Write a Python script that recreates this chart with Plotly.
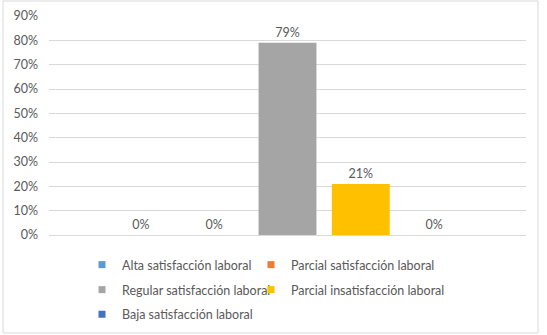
import plotly.graph_objects as go

# ---- data ----
category = ["Satisfacción laboral"]
series_names = [
    "Alta satisfacción laboral",
    "Parcial satisfacción laboral",
    "Regular satisfacción laboral",
    "Parcial insatisfacción laboral",
    "Baja satisfacción laboral",
]
values = [0, 0, 79, 21, 0]
colors = ["#5B9BD5", "#ED7D31", "#A5A5A5", "#FFC000", "#4472C4"]
y_ticks = [0, 10, 20, 30, 40, 50, 60, 70, 80, 90]

FONT = "Lato, Calibri, sans-serif"
TXT = "#595959"
GRID = "#D9D9D9"
W, H = 547, 335

fig = go.Figure()
for name, v, c in zip(series_names, values, colors):
    fig.add_trace(go.Bar(
        x=category, y=[v], name=name, marker=dict(color=c, line=dict(width=0)),
        text=[f"{v}%"], textposition="outside", cliponaxis=False,
        textfont=dict(family=FONT, size=12.5, color=TXT),
        showlegend=False,
    ))

# legend layout: Excel-style 2-column grid, one legend box per entry
legend_ids = ["legend", "legend2", "legend3", "legend4", "legend5"]
col_x = [82, 251]
row_y = [265, 290, 314.5]

legends = {}
for i, (name, c, lg) in enumerate(zip(series_names, colors, legend_ids)):
    fig.add_trace(go.Scatter(
        x=[None], y=[None], mode="markers", name=name,
        marker=dict(symbol="square", size=7, color=c),
        legend=lg, showlegend=True,
    ))
    legends[lg] = dict(
        orientation="h", xref="container", yref="container",
        x=col_x[i % 2] / W, y=1 - row_y[i // 2] / H,
        xanchor="left", yanchor="middle",
        font=dict(family=FONT, size=12.5, color=TXT),
        bgcolor="rgba(0,0,0,0)", itemsizing="trace",
    )

fig.update_layout(
    width=W, height=H,
    margin=dict(l=49, r=21, t=16, b=100, autoexpand=False),
    paper_bgcolor="white", plot_bgcolor="white",
    barmode="group", bargap=0.232, bargroupgap=0.21,
    font=dict(family=FONT, size=12.5, color=TXT),
    xaxis=dict(showticklabels=False, showgrid=False, showline=False, zeroline=False,
               ticks=""),
    yaxis=dict(range=[0, 90], tickvals=y_ticks, ticktext=[f"{t}%" for t in y_ticks],
               showgrid=True, gridcolor=GRID, gridwidth=1,
               zeroline=True, zerolinecolor=GRID, zerolinewidth=1,
               showline=False, ticks="", ticklabelstandoff=10,
               tickfont=dict(family=FONT, size=12.5, color=TXT)),
    shapes=[dict(type="rect", xref="paper", yref="paper",
                 x0=(3 - 49) / 477, x1=(538 - 49) / 477,
                 y0=(235 - 333) / 219, y1=(235 - 1) / 219,
                 line=dict(color=GRID, width=1), layer="below")],
    **legends,
)

fig.write_html("out.html")
